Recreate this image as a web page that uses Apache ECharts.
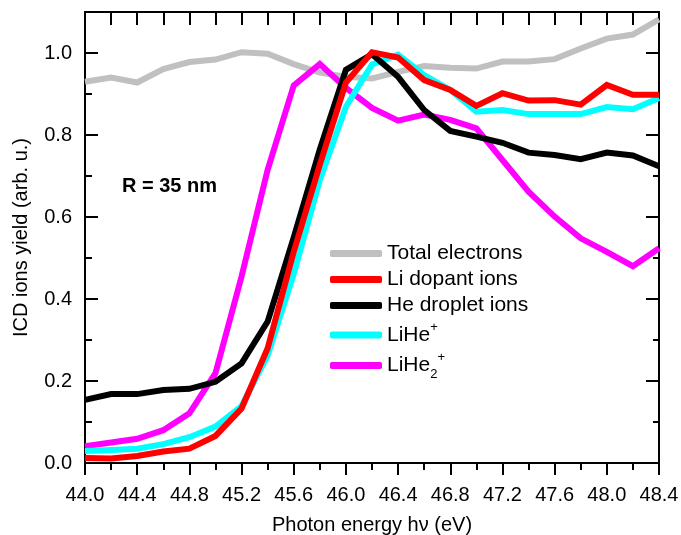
<!DOCTYPE html>
<html>
<head>
<meta charset="utf-8">
<script src="https://cdn.jsdelivr.net/npm/echarts@6/dist/echarts.min.js"></script>
<style>
  html, body { margin: 0; padding: 0; background: #fff; }
  #main { width: 681px; height: 535px; }
</style>
</head>
<body>
<div id="main"></div>
<script>
// photon energy (eV), one point every 0.2 eV
const energy = [44.0, 44.2, 44.4, 44.6, 44.8, 45.0, 45.2, 45.4, 45.6, 45.8, 46.0, 46.2,
  46.4, 46.6, 46.8, 47.0, 47.2, 47.4, 47.6, 47.8, 48.0, 48.2, 48.4]

const totalElectrons = [0.930, 0.940, 0.928, 0.961, 0.978, 0.984, 1.002, 0.998, 0.973, 0.952, 0.942, 0.938,
  0.954, 0.968, 0.964, 0.962, 0.979, 0.979, 0.985, 1.011, 1.035, 1.045, 1.082]
const liDopant = [0.012, 0.011, 0.017, 0.028, 0.035, 0.066, 0.133, 0.280, 0.515, 0.728, 0.928, 1.002,
  0.989, 0.934, 0.910, 0.871, 0.902, 0.884, 0.885, 0.874, 0.922, 0.898, 0.898]
const heDroplet = [0.154, 0.168, 0.168, 0.178, 0.181, 0.198, 0.243, 0.345, 0.550, 0.765, 0.959, 0.997,
  0.942, 0.861, 0.810, 0.796, 0.781, 0.757, 0.751, 0.741, 0.757, 0.750, 0.724]
const liHe = [0.029, 0.032, 0.035, 0.046, 0.063, 0.089, 0.139, 0.262, 0.461, 0.690, 0.869, 0.972,
  0.996, 0.946, 0.910, 0.857, 0.861, 0.851, 0.851, 0.851, 0.868, 0.863, 0.890]
const liHe2 = [0.041, 0.050, 0.059, 0.080, 0.121, 0.219, 0.455, 0.715, 0.921, 0.973, 0.915, 0.866,
  0.835, 0.850, 0.837, 0.816, 0.739, 0.662, 0.601, 0.548, 0.515, 0.480, 0.524]

const legendNames = ['Total electrons', 'Li dopant ions', 'He droplet ions', 'LiHe+', 'LiHe2+']

const font = '"Liberation Sans", Arial, sans-serif'

function pairs(ys) {
  return energy.map((x, i) => [x, ys[i]])
}

function line(name, ys, color) {
  return {
    name: name,
    type: 'line',
    data: pairs(ys),
    showSymbol: false,
    symbol: 'none',
    lineStyle: { color: color, width: 6, join: 'miter' },
    itemStyle: { color: color },
    animation: false
  }
}

const myChart = echarts.init(document.getElementById('main'), null, { renderer: 'canvas' })

const chartOptions = {
  backgroundColor: '#fff',
  textStyle: { fontFamily: font },
  title: {
    text: 'R = 35 nm',
    left: 122,
    top: 176,
    padding: 0,
    textStyle: { fontFamily: font, fontSize: 20, fontWeight: 'bold', color: '#000' }
  },
  grid: { left: 85, right: 22, top: 12, bottom: 72, containLabel: false, outerBoundsMode: 'none' },
  legend: {
    data: legendNames,
    orient: 'vertical',
    left: 330,
    top: 243,
    padding: 0,
    itemWidth: 52,
    itemHeight: 7,
    itemGap: 5,
    icon: 'roundRect',
    selectedMode: false,
    formatter: function (name) {
      if (name === 'LiHe+') return '{b|LiHe}{sup|+}'
      if (name === 'LiHe2+') return '{c|LiHe}{sub|2}{sup|+}'
      return name
    },
    textStyle: {
      fontFamily: font,
      fontSize: 21,
      color: '#000',
      rich: {
        b: { fontSize: 21, lineHeight: 28, fontFamily: font, color: '#000' },
        c: { fontSize: 21, lineHeight: 30, fontFamily: font, color: '#000' },
        sup: { fontSize: 13, verticalAlign: 'top', fontFamily: font, color: '#000' },
        sub: { fontSize: 13, verticalAlign: 'bottom', fontFamily: font, color: '#000' }
      }
    }
  },
  xAxis: [{
    type: 'value',
    position: 'bottom',
    min: 44.0,
    max: 48.4,
    interval: 0.4,
    name: 'Photon energy hν (eV)',
    nameLocation: 'middle',
    nameGap: 52,
    nameTextStyle: { fontFamily: font, fontSize: 20, color: '#000' },
    axisLine: { show: true, onZero: false, lineStyle: { color: '#000', width: 2 } },
    axisTick: { show: true, inside: false, length: 12, lineStyle: { color: '#000', width: 2 } },
    minorTick: { show: true, splitNumber: 2, length: 7, lineStyle: { color: '#000', width: 2 } },
    splitLine: { show: false },
    axisLabel: {
      margin: 22,
      fontFamily: font,
      fontSize: 20,
      color: '#000',
      formatter: v => v.toFixed(1)
    }
  }, {
    type: 'value',
    position: 'top',
    min: 44.0,
    max: 48.4,
    interval: 0.2,
    axisLine: { show: true, onZero: false, lineStyle: { color: '#000', width: 2 } },
    axisTick: { show: true, inside: true, length: 13, lineStyle: { color: '#000', width: 2 } },
    splitLine: { show: false },
    axisLabel: { show: false }
  }],
  yAxis: [{
    type: 'value',
    position: 'left',
    min: 0,
    max: 1.1,
    interval: 0.2,
    name: 'ICD ions yield (arb. u.)',
    nameLocation: 'middle',
    nameGap: 54,
    nameTextStyle: { fontFamily: font, fontSize: 20, color: '#000' },
    axisLine: { show: true, onZero: false, lineStyle: { color: '#000', width: 2 } },
    axisTick: { show: true, inside: true, length: 13, lineStyle: { color: '#000', width: 2 } },
    splitLine: { show: false },
    axisLabel: {
      margin: 13,
      fontFamily: font,
      fontSize: 20,
      color: '#000',
      formatter: function (v) {
        const k = Math.round(v / 0.2)
        return Math.abs(v - k * 0.2) < 1e-6 ? v.toFixed(1) : ''
      }
    }
  }, {
    // short ticks every 0.1 on the left
    type: 'value',
    position: 'left',
    min: 0,
    max: 1.1,
    interval: 0.1,
    axisLine: { show: false },
    axisTick: { show: true, inside: true, length: 7, lineStyle: { color: '#000', width: 2 } },
    splitLine: { show: false },
    axisLabel: { show: false }
  }, {
    type: 'value',
    position: 'right',
    min: 0,
    max: 1.1,
    interval: 0.2,
    axisLine: { show: true, onZero: false, lineStyle: { color: '#000', width: 2 } },
    axisTick: { show: true, inside: true, length: 13, lineStyle: { color: '#000', width: 2 } },
    splitLine: { show: false },
    axisLabel: { show: false }
  }, {
    type: 'value',
    position: 'right',
    min: 0,
    max: 1.1,
    interval: 0.1,
    axisLine: { show: false },
    axisTick: { show: true, inside: true, length: 6, lineStyle: { color: '#000', width: 2 } },
    splitLine: { show: false },
    axisLabel: { show: false }
  }],
  series: [
    line('Total electrons', totalElectrons, '#c0c0c0'),
    line('LiHe2+', liHe2, '#ff00ff'),
    line('LiHe+', liHe, '#00ffff'),
    line('He droplet ions', heDroplet, '#000000'),
    line('Li dopant ions', liDopant, '#ff0000')
  ]
}

myChart.setOption(chartOptions)
</script>
</body>
</html>
